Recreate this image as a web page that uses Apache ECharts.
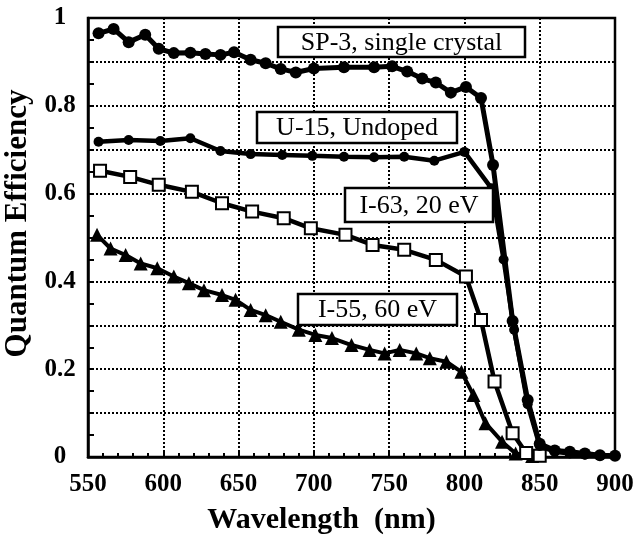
<!DOCTYPE html>
<html><head><meta charset="utf-8">
<script src="https://cdn.jsdelivr.net/npm/echarts@6/dist/echarts.min.js"></script>
<style>html,body{margin:0;padding:0;background:#fff}#c{width:642px;height:536px}</style>
</head><body><div id="c"></div>
<script>
// Wavelength (nm) / quantum efficiency pairs
var sp3Wl  = [557,567,577,588,597,607,618,628,638,647,658,668,678,688,700,720,740,752,762,772,781,791,801,811,819,832,842,850,860,870,880,890,900];
var sp3Qe  = [0.965,0.975,0.945,0.962,0.93,0.92,0.921,0.918,0.916,0.922,0.905,0.897,0.884,0.876,0.885,0.888,0.888,0.89,0.878,0.862,0.853,0.83,0.843,0.818,0.665,0.31,0.13,0.03,0.015,0.012,0.008,0.004,0.003];
var u15Wl  = [557,577,598,618,638,658,679,699,720,740,760,780,800,818,826,833,842,850,860,870,880];
var u15Qe  = [0.718,0.722,0.72,0.726,0.697,0.69,0.688,0.686,0.684,0.683,0.684,0.675,0.695,0.612,0.45,0.29,0.12,0.025,0.012,0.008,0.005];
var i63Wl  = [558,578,597,619,639,659,680,698,721,739,760,781,801,811,820,832,841,850];
var i63Qe  = [0.652,0.638,0.62,0.604,0.578,0.559,0.544,0.521,0.506,0.483,0.472,0.449,0.411,0.312,0.172,0.054,0.009,0.003];
var i55Wl  = [556,565,575,585,596,607,617,627,639,648,658,668,678,690,701,712,725,737,747,757,768,777,788,798,806,814,825,834,845];
var i55Qe  = [0.506,0.475,0.46,0.441,0.43,0.411,0.396,0.38,0.369,0.358,0.335,0.323,0.308,0.29,0.278,0.271,0.255,0.244,0.236,0.244,0.236,0.225,0.217,0.194,0.141,0.077,0.035,0.008,0.002];
var labelTexts = ['SP-3, single crystal','U-15, Undoped','I-63, 20 eV','I-55, 60 eV'];

function pairs(x, y){ return x.map(function(v,i){ return [v, y[i]]; }); }

var serif = '"Liberation Serif", "Times New Roman", serif';
var chart = echarts.init(document.getElementById('c'), null, {renderer:'canvas'});

function box(cx, cy, w, h, txt){
  return {
    type:'group', z:100, zlevel:1,
    children:[
      {type:'rect', z:100, zlevel:1, shape:{x:cx-w/2, y:cy-h/2, width:w, height:h}, style:{fill:'#fff', stroke:'#000', lineWidth:2.5}},
      {type:'text', z:101, zlevel:1, x:cx, y:cy+1, style:{text:txt, fill:'#000', font:'26px ' + serif, align:'center', verticalAlign:'middle'}}
    ]
  };
}

chart.setOption({
  animation:false,
  backgroundColor:'#fff',
  grid:{left:88, right:27, top:18, bottom:79, show:true, borderColor:'#000', borderWidth:2.5, backgroundColor:'transparent', containLabel:false, outerBoundsMode:'none'},
  xAxis:{
    type:'value', min:550, max:900, interval:50,
    name:'Wavelength  (nm)', nameLocation:'middle', nameGap:48,
    nameTextStyle:{fontFamily:serif, fontWeight:'bold', fontSize:30, color:'#000', padding:[0,60,0,0]},
    axisLine:{show:true, lineStyle:{color:'#000', width:2.5}},
    axisTick:{show:true, inside:true, length:7, lineStyle:{color:'#000', width:2}},
    minorTick:{show:true, splitNumber:5, length:4, lineStyle:{color:'#000', width:2}},
    axisLabel:{fontFamily:serif, fontWeight:'bold', fontSize:25, color:'#000', margin:15},
    splitLine:{show:true, lineStyle:{color:'#000', width:2, type:[2,2]}}
  },
  yAxis:{
    type:'value', min:0, max:1, interval:0.1,
    name:'Quantum Efficiency', nameLocation:'middle', nameGap:50,
    nameTextStyle:{fontFamily:serif, fontWeight:'bold', fontSize:31, color:'#000', padding:[0,0,0,28]},
    axisLine:{show:true, lineStyle:{color:'#000', width:2.5}},
    axisTick:{show:true, inside:true, length:6, lineStyle:{color:'#000', width:2}},
    minorTick:{show:true, splitNumber:2, length:6, lineStyle:{color:'#000', width:2}},
    axisLabel:{fontFamily:serif, fontWeight:'bold', fontSize:25, color:'#000', margin:28, align:'center',
      formatter:function(v){ var k=Math.round(v*10); if(k%2!==0) return ''; if(k===0) return '0'; if(k===10) return '1'; return (k/10).toFixed(1); }},
    splitLine:{show:true, lineStyle:{color:'#000', width:2, type:[2,2]}}
  },
  series:[
    {type:'line', name:labelTexts[0], data:pairs(sp3Wl, sp3Qe), symbol:'circle', symbolSize:12,
     lineStyle:{color:'#000', width:5}, itemStyle:{color:'#000'}, z:5},
    {type:'line', name:labelTexts[1], data:pairs(u15Wl, u15Qe), symbol:'circle', symbolSize:10,
     lineStyle:{color:'#000', width:4.5}, itemStyle:{color:'#000'}, z:4},
    {type:'line', name:labelTexts[2], data:pairs(i63Wl, i63Qe), symbol:'emptyRect', symbolSize:12,
     lineStyle:{color:'#000', width:4.5}, itemStyle:{color:'#000', borderColor:'#000', borderWidth:3}, z:3},
    {type:'line', name:labelTexts[3], data:pairs(i55Wl, i55Qe), symbol:'triangle', symbolSize:14,
     lineStyle:{color:'#000', width:4}, itemStyle:{color:'#000'}, z:2}
  ],
  graphic:[
    box(401.5, 42, 247, 30, labelTexts[0]),
    box(357, 127.5, 200, 31, labelTexts[1]),
    box(419, 205, 148, 34, labelTexts[2]),
    box(377.5, 309.5, 159, 31, labelTexts[3])
  ]
});
</script></body></html>
